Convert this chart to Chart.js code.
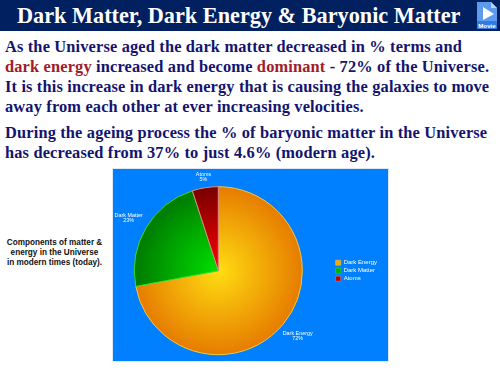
<!DOCTYPE html>
<html>
<head>
<meta charset="utf-8">
<script src="https://cdn.jsdelivr.net/npm/chart.js@4"></script>
<style>
    html, body { margin: 0; padding: 0; background: #fff; }
    #page { position: relative; width: 500px; height: 375px; overflow: hidden; }
    #header { position: absolute; left: 0; top: 0; width: 500px; height: 31px; background: #002060; }
    #title { position: absolute; left: 17px; top: 3px; color: #fff; font: bold 22.25px "Liberation Serif", serif; white-space: nowrap; }
    .line { position: absolute; left: 5px; color: #14146e; font: bold 16.4px "Liberation Serif", serif; white-space: nowrap; letter-spacing: 0.15px; }
    .line span { color: #a01c2c; }
    #caption { position: absolute; left: -1px; top: 238px; width: 111px; text-align: center; color: #111; font: bold 8.2px/10px "Liberation Sans", sans-serif; }
    #panel { position: absolute; left: 112px; top: 168px; width: 277px; height: 194px; background: #0080ff; border: 1px solid #dce8f5; box-sizing: border-box; }
    #pie { position: absolute; left: -10px; top: 0; }
    #movie { position: absolute; left: 476px; top: 2px; width: 22px; height: 28px; }
</style>
</head>
<body>
<div id="page">
    <div id="header"></div>
    <div id="title">Dark Matter, Dark Energy &amp; Baryonic Matter</div>
    <svg id="movie" viewBox="0 0 22 28">
        <path d="M1 0 H15 L21 6 V27 H1 Z" fill="#5b9cf0"/>
        <path d="M15 0 L21 6 H15 Z" fill="#b8d4f8"/>
        <path d="M7 5 L18 12 L7 18 Z" fill="#fff"/>
        <rect x="1" y="19" width="20" height="8" fill="#2f7be0"/>
        <text x="11" y="26" text-anchor="middle" fill="#fff" font-family="Liberation Sans" font-weight="bold" font-size="6.2">Movie</text>
    </svg>
    <div class="line" style="top:37px">As the Universe aged the dark matter decreased in % terms and</div>
    <div class="line" style="top:57px"><span>dark energy</span> increased and become <span>dominant</span> - 72% of the Universe.</div>
    <div class="line" style="top:77px">It is this increase in dark energy that is causing the galaxies to move</div>
    <div class="line" style="top:97px">away from each other at ever increasing velocities.</div>
    <div class="line" style="top:123px">During the ageing process the % of baryonic matter in the Universe</div>
    <div class="line" style="top:143px">has decreased from 37% to just 4.6% (modern age).</div>
    <div id="caption">Components of matter &amp;<br>energy in the Universe<br>in modern times (today).</div>
    <div id="panel"><canvas id="pie" width="285" height="192"></canvas></div>
</div>
<script>
    const categories = ['Dark Energy', 'Dark Matter', 'Atoms'];
    const shares = [72, 23, 5];
    const innerColors = ['#ffdd11', '#00e000', '#ff0000'];
    const outerColors = ['#e67c00', '#007a00', '#780000'];
    const edgeColors = ['#f7c63a', '#2ee02e', '#e08a80'];
    const legendColors = ['#f5a800', '#00b000', '#b00000'];
    const pieRadius = 84;

    function sliceGradient(context) {
        const area = context.chart.chartArea;
        if (!area) {
            return outerColors[context.dataIndex];
        }
        const cx = (area.left + area.right) / 2;
        const cy = (area.top + area.bottom) / 2;
        const g = context.chart.ctx.createRadialGradient(cx, cy, 0, cx, cy, pieRadius);
        g.addColorStop(0, innerColors[context.dataIndex]);
        g.addColorStop(1, outerColors[context.dataIndex]);
        return g;
    }

    // labels outside the pie, name on top and percent under it
    const outsideLabels = {
        id: 'outsideLabels',
        afterDatasetsDraw(chart) {
            const ctx = chart.ctx;
            ctx.save();
            ctx.fillStyle = '#fff';
            ctx.font = '5.4px "Liberation Sans", sans-serif';
            ctx.textAlign = 'center';
            ctx.textBaseline = 'middle';
            chart.getDatasetMeta(0).data.forEach((arc, i) => {
                const mid = (arc.startAngle + arc.endAngle) / 2;
                const r = arc.outerRadius + 9 + 13 * Math.abs(Math.cos(mid));
                const x = arc.x + Math.cos(mid) * r;
                const y = arc.y + Math.sin(mid) * r;
                ctx.fillText(categories[i], x, y - 2.5);
                ctx.fillText(shares[i] + '%', x, y + 2.5);
            });
            ctx.restore();
        }
    };

    new Chart(document.getElementById('pie'), {
        type: 'pie',
        data: {
            labels: categories,
            datasets: [{
                data: shares,
                backgroundColor: sliceGradient,
                borderColor: edgeColors,
                borderWidth: 1,
                radius: pieRadius
            }]
        },
        options: {
            responsive: false,
            animation: false,
            layout: { padding: { left: 0, right: 1, top: 11.4, bottom: 0 } },
            plugins: {
                tooltip: { enabled: false },
                legend: {
                    position: 'right',
                    labels: {
                        color: '#fff',
                        boxWidth: 5,
                        boxHeight: 5,
                        padding: 2,
                        font: { size: 6, family: '"Liberation Sans", sans-serif' },
                        generateLabels: () => categories.map((name, i) => ({
                            text: name,
                            fillStyle: legendColors[i],
                            strokeStyle: edgeColors[i],
                            lineWidth: 0.5,
                            fontColor: '#fff',
                            index: i
                        }))
                    }
                }
            }
        },
        plugins: [outsideLabels]
    });
</script>
</body>
</html>
